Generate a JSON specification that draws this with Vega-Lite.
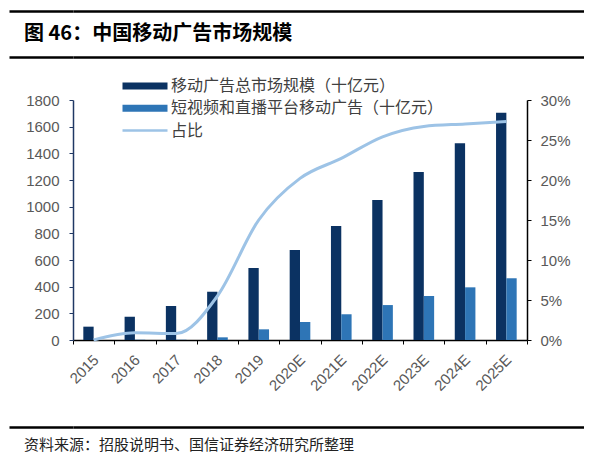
{
  "$schema": "https://vega.github.io/schema/vega-lite/v6.json",
  "padding": {"left": 7, "top": 9, "right": 0, "bottom": 0},
  "spacing": 0,
  "config": {"view": {"stroke": null}, "font": "Liberation Sans"},
  "resolve": {"scale": {"color": "independent"}},
  "vconcat": [
    {
      "width": 511, "height": 46,
      "data": {"values": [{"t": "图 46：中国移动广告市场规模"}]},
      "mark": {"type": "text", "align": "left", "baseline": "middle", "dx": -49, "font": "Noto Sans CJK SC", "fontSize": 20, "fontWeight": "bold", "color": "black"},
      "encoding": {
        "text": {"field": "t"},
        "x": {"field": "t", "type": "nominal", "scale": {"type": "point", "align": 0, "padding": 0}, "axis": null},
        "y": {"field": "t", "type": "nominal", "scale": {"type": "band", "paddingInner": 0, "paddingOuter": 0},
          "axis": {"title": null, "labels": false, "domain": false, "tickBand": "extent",
            "ticks": true, "tickSize": 64, "tickColor": "black", "tickWidth": 2.5,
            "grid": true, "gridColor": "black", "gridWidth": 2.5, "gridOpacity": 1}}
      }
    },
    {
      "width": 454, "height": 240,
      "layer": [
        {
          "data": {"values": [
            {"year": "2015", "series": "移动广告总市场规模（十亿元）", "value": 100},
            {"year": "2016", "series": "移动广告总市场规模（十亿元）", "value": 175},
            {"year": "2017", "series": "移动广告总市场规模（十亿元）", "value": 255},
            {"year": "2018", "series": "移动广告总市场规模（十亿元）", "value": 362},
            {"year": "2019", "series": "移动广告总市场规模（十亿元）", "value": 540},
            {"year": "2020E", "series": "移动广告总市场规模（十亿元）", "value": 675},
            {"year": "2021E", "series": "移动广告总市场规模（十亿元）", "value": 855},
            {"year": "2022E", "series": "移动广告总市场规模（十亿元）", "value": 1050},
            {"year": "2023E", "series": "移动广告总市场规模（十亿元）", "value": 1260},
            {"year": "2024E", "series": "移动广告总市场规模（十亿元）", "value": 1475},
            {"year": "2025E", "series": "移动广告总市场规模（十亿元）", "value": 1705},
            {"year": "2015", "series": "短视频和直播平台移动广告（十亿元）", "value": 0},
            {"year": "2016", "series": "短视频和直播平台移动广告（十亿元）", "value": 2},
            {"year": "2017", "series": "短视频和直播平台移动广告（十亿元）", "value": 2},
            {"year": "2018", "series": "短视频和直播平台移动广告（十亿元）", "value": 20},
            {"year": "2019", "series": "短视频和直播平台移动广告（十亿元）", "value": 80},
            {"year": "2020E", "series": "短视频和直播平台移动广告（十亿元）", "value": 135},
            {"year": "2021E", "series": "短视频和直播平台移动广告（十亿元）", "value": 193},
            {"year": "2022E", "series": "短视频和直播平台移动广告（十亿元）", "value": 262},
            {"year": "2023E", "series": "短视频和直播平台移动广告（十亿元）", "value": 330},
            {"year": "2024E", "series": "短视频和直播平台移动广告（十亿元）", "value": 395},
            {"year": "2025E", "series": "短视频和直播平台移动广告（十亿元）", "value": 463}
          ]},
          "mark": {"type": "bar"},
          "encoding": {
            "x": {"field": "year", "type": "nominal", "sort": null,
              "scale": {"paddingInner": 0, "paddingOuter": 0},
              "axis": {"title": null, "labelAngle": -45, "labelFont": "Liberation Sans", "labelFontSize": 15, "labelColor": "#595959",
                "tickBand": "extent", "tickSize": 4, "tickColor": "black", "domainColor": "black", "domainWidth": 1.5,
                "labelPadding": 8, "labelOffset": -3}},
            "xOffset": {"field": "series", "type": "nominal",
              "scale": {"domain": ["移动广告总市场规模（十亿元）", "短视频和直播平台移动广告（十亿元）"], "paddingInner": 0, "paddingOuter": 1.07}},
            "y": {"field": "value", "type": "quantitative",
              "scale": {"domain": [0, 1800]},
              "axis": {"values": [0, 200, 400, 600, 800, 1000, 1200, 1400, 1600, 1800], "format": "d", "grid": false,
                "title": " ", "titleX": -30, "titleY": -41, "titleAngle": 0, "titleAlign": "left", "titleBaseline": "top",
                "labelFont": "Liberation Sans", "labelFontSize": 15, "labelColor": "#595959", "labelPadding": 10,
                "tickSize": 4, "tickColor": "#203864", "domainColor": "#203864", "domainWidth": 1.5}},
            "color": {"field": "series", "type": "nominal",
              "scale": {"domain": ["移动广告总市场规模（十亿元）", "短视频和直播平台移动广告（十亿元）", "占比"], "range": ["#0B3262", "#2E75B6", "#9DC3E6"]},
              "legend": {"title": null, "orient": "none", "legendX": 64, "legendY": -22, "direction": "vertical", "padding": 0,
                "symbolSize": 100, "labelOffset": 18, "labelFont": "Noto Sans CJK SC", "labelFontSize": 16, "labelColor": "#404040", "labelLimit": 400, "rowPadding": 6.3,
                "encode": {"symbols": {"update": {
                  "shape": {"signal": "datum.value === '占比' ? 'M-4.5,-0.25L4.5,-0.25L4.5,0.25L-4.5,0.25Z' : 'M-4.5,-0.7L4.5,-0.7L4.5,0.7L-4.5,0.7Z'"},
                  "strokeWidth": {"value": 0}}}}}}
          }
        },
        {
          "data": {"values": [
            {"year": "2015", "pct": 0},
            {"year": "2016", "pct": 0.009},
            {"year": "2017", "pct": 0.008},
            {"year": "2018", "pct": 0.055},
            {"year": "2019", "pct": 0.15},
            {"year": "2020E", "pct": 0.202},
            {"year": "2021E", "pct": 0.227},
            {"year": "2022E", "pct": 0.254},
            {"year": "2023E", "pct": 0.267},
            {"year": "2024E", "pct": 0.27},
            {"year": "2025E", "pct": 0.273}
          ]},
          "mark": {"type": "line", "interpolate": "monotone", "strokeWidth": 3},
          "encoding": {
            "x": {"field": "year", "type": "nominal", "sort": null},
            "y": {"field": "pct", "type": "quantitative",
              "scale": {"domain": [0, 0.3]},
              "axis": {"orient": "right", "values": [0, 0.05, 0.1, 0.15, 0.2, 0.25, 0.3], "format": ".0%", "grid": false,
                "title": " ", "titleX": 0, "titleY": 325, "titleAngle": 0, "titleAlign": "left", "titleBaseline": "bottom",
                "labelFont": "Liberation Sans", "labelFontSize": 15, "labelColor": "#595959", "labelPadding": 9,
                "tickSize": 4, "tickColor": "black", "domainColor": "black", "domainWidth": 1.5}},
            "color": {"datum": "占比"}
          }
        }
      ],
      "resolve": {"scale": {"y": "independent"}}
    },
    {
      "width": 511, "height": 36,
      "data": {"values": [{"t": "资料来源：招股说明书、国信证券经济研究所整理"}]},
      "mark": {"type": "text", "align": "left", "baseline": "middle", "dx": -49, "font": "Noto Sans CJK SC", "fontSize": 15, "color": "#222222"},
      "encoding": {
        "text": {"field": "t"},
        "x": {"field": "t", "type": "nominal", "scale": {"type": "point", "align": 0, "padding": 0}, "axis": null},
        "y": {"field": "t", "type": "nominal", "scale": {"type": "band", "paddingInner": 0, "paddingOuter": 0},
          "axis": {"title": null, "labels": false, "domain": false, "bandPosition": 0,
            "ticks": true, "tickSize": 64, "tickColor": "black", "tickWidth": 2.5,
            "grid": true, "gridColor": "black", "gridWidth": 2.5, "gridOpacity": 1}}
      }
    }
  ]
}
